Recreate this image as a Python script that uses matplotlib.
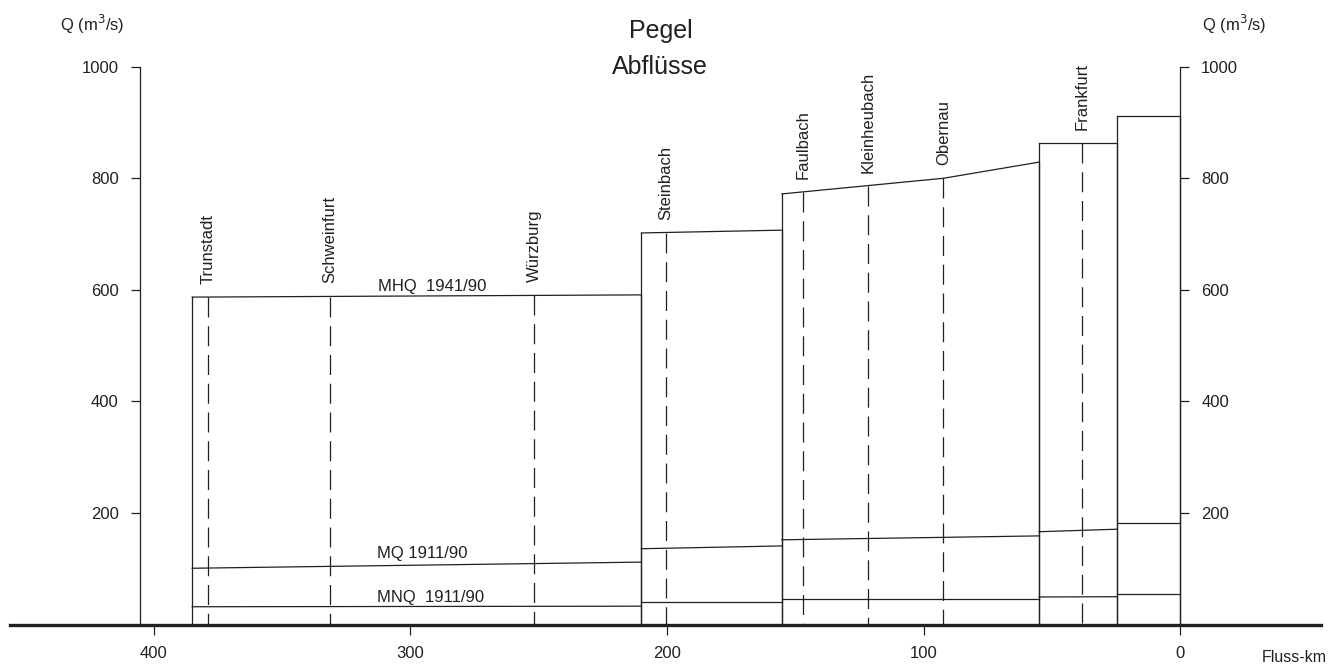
import matplotlib
matplotlib.use("Agg")
import matplotlib.pyplot as plt

plt.rcParams['font.family'] = ['Liberation Sans', 'DejaVu Sans']

# ---------------- data ----------------
# river sections (Fluss-km), flows in m³/s
box_left = [385.0, 210.0, 155.2, 55.0, 24.5]
box_right = [210.0, 155.2, 55.0, 24.5, 0.0]
# MHQ profile per section (km, value)
mhq_km = [[385.0, 210.0], [210.0, 155.2], [155.2, 92.3, 55.0], [55.0, 24.5], [24.5, 0.0]]
mhq_val = [[587, 591], [702, 707], [772, 800, 829], [863, 863], [912, 912]]
mq_left = [101, 136, 152, 166.5, 182.5]
mq_right = [112, 141, 159, 171, 182.5]
mnq_left = [32, 40.5, 46.5, 49.5, 55]
mnq_right = [33, 40.5, 46.5, 50, 55]

stations = ["Trunstadt", "Schweinfurt", "Würzburg", "Steinbach", "Faulbach",
            "Kleinheubach", "Obernau", "Frankfurt"]
station_km = [378.8, 331.3, 251.8, 200.5, 147.0, 121.5, 92.3, 38.3]
station_top = [587, 588, 590, 702, 775, 786, 800, 863]

x_ticks = [400, 300, 200, 100, 0]
y_ticks = [200, 400, 600, 800, 1000]

C = '#231f20'
LW = 0.9

fig = plt.figure(figsize=(13.35, 6.66), dpi=100)
ax = fig.add_axes([0, 0, 1, 1])
# px = 1180.3 - 2.5665*km ; py = 624.6 - 0.5579*v
ax.set_xlim(1180.3 / 2.5665, (1180.3 - 1335) / 2.5665)
ax.set_ylim((624.6 - 666) / 0.5579, 624.6 / 0.5579)
ax.patch.set_visible(False)

# spines as axes
ax.spines['top'].set_visible(False)
ax.spines['left'].set_position(('data', 405.5))
ax.spines['left'].set_bounds(0, 1000)
ax.spines['right'].set_position(('data', 0))
ax.spines['right'].set_bounds(0, 1000)
ax.spines['bottom'].set_position(('data', 0))
ax.spines['bottom'].set_bounds(-55, 456)
for s in ('left', 'right'):
    ax.spines[s].set_linewidth(LW)
    ax.spines[s].set_color(C)
ax.spines['bottom'].set_linewidth(2.4)
ax.spines['bottom'].set_color(C)

ax.set_yticks(y_ticks)
ax.set_yticklabels([str(v) for v in y_ticks])
ax.set_xticks(x_ticks)
ax.set_xticklabels([str(v) for v in x_ticks])
ax.tick_params(axis='y', left=True, right=True, labelleft=True, labelright=True,
               direction='out', length=6.5, width=LW, pad=8.5, labelsize=12,
               colors=C)
ax.tick_params(axis='x', direction='out', length=7.2, width=LW, pad=8,
               labelsize=12, colors=C)

# boxes
for i in range(len(box_left)):
    ax.plot([box_left[i], box_left[i]], [0, mhq_val[i][0]], color=C, lw=LW)
    ax.plot([box_right[i], box_right[i]], [0, mhq_val[i][-1]], color=C, lw=LW)
    ax.plot(mhq_km[i], mhq_val[i], color=C, lw=LW)
    ax.plot([box_left[i], box_right[i]], [mq_left[i], mq_right[i]], color=C, lw=LW)
    ax.plot([box_left[i], box_right[i]], [mnq_left[i], mnq_right[i]], color=C, lw=LW)

# stations
for name, km, top in zip(stations, station_km, station_top):
    ax.plot([km, km], [top, 0], color=C, lw=LW, linestyle=(0, (16, 7)))
    ax.annotate(name, (km, top), xytext=(0, 9.5), textcoords='offset points',
                rotation=90, ha='center', va='bottom', fontsize=12, color=C)

# series labels
ax.annotate("MHQ  1941/90", (291.6, 589), xytext=(0, 3.5), textcoords='offset points',
            ha='center', va='baseline', fontsize=12, color=C)
ax.annotate("MQ 1911/90", (295.5, 106.6), xytext=(0, 5), textcoords='offset points',
            ha='center', va='baseline', fontsize=12, color=C)
ax.annotate("MNQ  1911/90", (292.0, 32.5), xytext=(0, 3.5), textcoords='offset points',
            ha='center', va='baseline', fontsize=12, color=C)

# title and axis labels
fig.text(661 / 1335, 1 - 38 / 666, "Pegel", ha='center', va='baseline', fontsize=18, color=C)
fig.text(660 / 1335, 1 - 74 / 666, "Abflüsse", ha='center', va='baseline', fontsize=18, color=C)
fig.text(60 / 1335, 1 - 31 / 666, "Q (m$^3$/s)", ha='left', va='baseline', fontsize=12, color=C)
fig.text(1202 / 1335, 1 - 31 / 666, "Q (m$^3$/s)", ha='left', va='baseline', fontsize=12, color=C)
fig.text(1327 / 1335, 1 - 662 / 666, "Fluss-km", ha='right', va='baseline', fontsize=11.5, color=C)

fig.savefig("out.png", dpi=100)
